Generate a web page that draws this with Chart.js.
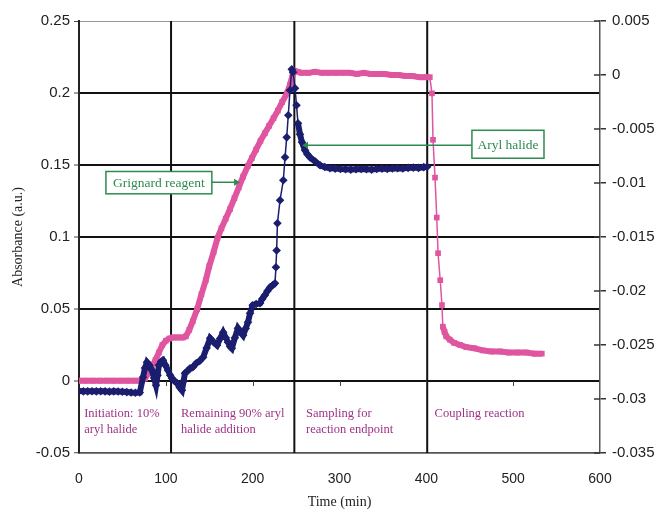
<!DOCTYPE html>
<html>
<head>
<meta charset="utf-8">
<script src="https://cdn.jsdelivr.net/npm/chart.js@4/dist/chart.umd.min.js"></script>
<style>
  html, body { margin: 0; padding: 0; background: #fff; }
</style>
</head>
<body>
<canvas id="absorbanceChart" width="654" height="513"></canvas>
<script>
'use strict';

// aryl halide absorbance (left axis, a.u.)
const arylTime = [0, 5, 10, 15, 20, 25, 30, 35, 40, 45, 50, 55, 60, 65, 70,
  73.7, 76, 78.3, 81, 84, 86.5, 88.7, 90.5, 92, 94.5, 96.7, 99.5, 102.5, 105, 107,
  110, 113, 116, 118.6, 120.5, 122, 125, 128, 131, 135, 139, 143, 147, 151, 155,
  159, 162.5, 166, 169, 171.6, 174, 176, 179.5, 183, 186, 189, 192, 194.6, 197,
  200, 204, 208.5, 211, 214, 217, 220, 223, 225.7, 226.8, 227.6, 228.5, 231.5,
  235.3, 237.3, 239.2, 241, 243, 245, 246.5, 248.8, 250.5, 252.2, 254.5, 256.8,
  260.3, 263, 266, 271.8, 277.6, 283, 289, 295, 301, 307, 313, 319, 325, 331, 337,
  343, 349, 355, 361, 367, 373, 379, 385, 391, 397, 401];
const arylAbs = [-0.0070, -0.0072, -0.0072, -0.0071, -0.0072, -0.0071, -0.0072,
  -0.0074, -0.0072, -0.0073, -0.0075, -0.0077, -0.0080, -0.0082, -0.0080,
  0.0026, 0.0090, 0.0130, 0.0110, 0.0074, 0.0020, -0.0030, 0.0040, 0.0110, 0.0135,
  0.0144, 0.0110, 0.0074, 0.0040, 0.0019, 0.0000, -0.0016, -0.0045, -0.0065,
  0.0000, 0.0053, 0.0070, 0.0088, 0.0095, 0.0123, 0.0140, 0.0165, 0.0230, 0.0297,
  0.0270, 0.0248, 0.0295, 0.0338, 0.0300, 0.0269, 0.0240, 0.0227, 0.0300, 0.0366,
  0.0340, 0.0317, 0.0365, 0.0408, 0.0470, 0.0526, 0.0535, 0.0540, 0.0570, 0.0595,
  0.0625, 0.0650, 0.0665, 0.0678, 0.0790, 0.0907, 0.1095, 0.1255, 0.1394, 0.1553,
  0.1692, 0.1845, 0.2019, 0.2165, 0.2144, 0.2033, 0.1915, 0.1790, 0.1713, 0.1658,
  0.1602, 0.1575, 0.1553, 0.1526, 0.1498, 0.1486, 0.1477, 0.1475, 0.1472, 0.1470,
  0.1468, 0.1470, 0.1472, 0.1470, 0.1468, 0.1472, 0.1475, 0.1473, 0.1476, 0.1478,
  0.1476, 0.1480, 0.1482, 0.1480, 0.1485, 0.1488];

// Grignard reagent absorbance (right axis, a.u.)
const grignardTime = [0, 8, 16, 24, 32, 40, 48, 56, 64, 72, 76, 80, 84, 88, 92, 96,
  100, 104, 108, 112, 116, 120, 123, 127, 131, 136, 141, 146, 150, 155, 159.5, 164,
  169, 174, 179, 184, 189, 194.6, 199, 204, 209, 214, 219, 224, 229, 234, 239.5,
  243, 246, 248, 252, 256, 264, 272, 280, 288, 296, 304, 312, 320, 328, 336, 344,
  352, 360, 368, 376, 384, 392, 400, 404, 406.5, 407.7, 410, 412, 413.5, 416, 418,
  419, 421, 423, 427, 432, 439, 446, 455, 465, 475, 485, 495, 505, 515, 525, 533];
const grignardAbs = [-0.0283, -0.0283, -0.0283, -0.0283, -0.0283, -0.0283, -0.0283,
  -0.0283, -0.0283, -0.0283, -0.0281, -0.0276, -0.0270, -0.0264, -0.0257, -0.0250,
  -0.0246, -0.0244, -0.0243, -0.0243, -0.0243, -0.0243, -0.0242, -0.0236, -0.0228,
  -0.0217, -0.0203, -0.0190, -0.0177, -0.0164, -0.0151, -0.0142, -0.0133, -0.0124,
  -0.0114, -0.0104, -0.0094, -0.0084, -0.0077, -0.0069, -0.0061, -0.0054, -0.0047,
  -0.0040, -0.0033, -0.0025, -0.0017, -0.0009, 0.0000, 0.0004, 0.0003, 0.0002,
  0.0002, 0.0003, 0.0002, 0.0002, 0.0002, 0.0002, 0.0002, 0.0001, 0.0002, 0.0001,
  0.0001, 0.0001, 0.0000, 0.0000, -0.0001, -0.0001, -0.0002, -0.0002, -0.0002,
  -0.0017, -0.0060, -0.0095, -0.0132, -0.0165, -0.0190, -0.0213, -0.0233, -0.0238,
  -0.0242, -0.0245, -0.0248, -0.0250, -0.0252, -0.0253, -0.0255, -0.0256, -0.0256,
  -0.0257, -0.0257, -0.0257, -0.0258, -0.0258];

// reaction stage boundaries (min)
const phaseBoundaries = [106, 248, 401];
const phaseNames = [
  ['Initiation: 10%', 'aryl halide'],
  ['Remaining 90% aryl', 'halide addition'],
  ['Sampling for', 'reaction endpoint'],
  ['Coupling reaction'],
];

const ARYL_COLOR = '#1b1d6e';
const GRIGNARD_COLOR = '#e0559f';
const NOTE_GREEN = '#2f8a50';
const PHASE_PURPLE = '#9e3386';
const SANS = "'Liberation Sans', Arial, sans-serif";
const SERIF = "'Liberation Serif', 'Times New Roman', serif";

function toPoints(xs, ys) {
  return xs.map((x, i) => ({ x, y: ys[i] }));
}

// dense runs of samples read as a thick band, sparse jumps as a thin line
function bandWidth(ctx) {
  const dist = Math.hypot(ctx.p1.x - ctx.p0.x, ctx.p1.y - ctx.p0.y);
  return dist < 16 ? 6 : 1.5;
}

// plain Excel-like labels: 0.2, 0, -0.005
function tickText(value) {
  const v = parseFloat(Number(value).toFixed(3));
  return v === 0 ? '0' : String(v);
}

function gridColor(value) {
  if (value === 0) return '#8a8a8a';
  if (value > 0.24) return '#9a9a9a';
  if (value < -0.04) return '#555';
  return '#111';
}

function gridWidth(value) {
  if (value === 0 || value > 0.24) return 1;
  if (value < -0.04) return 1.5;
  return 2;
}

const dividerSets = phaseBoundaries.map((t) => ({
  data: [{ x: t, y: -0.05 }, { x: t, y: 0.25 }],
  showLine: true,
  borderColor: '#111',
  borderWidth: 2,
  pointRadius: 0,
  yAxisID: 'y',
  order: 10,
}));

const phasePositions = [
  { t: 6, v: -0.0225 },
  { t: 117.5, v: -0.0225 },
  { t: 261.5, v: -0.0225 },
  { t: 409.5, v: -0.0225 },
];

function drawArrowHead(ctx, x, y, dir) {
  ctx.beginPath();
  ctx.moveTo(x, y);
  ctx.lineTo(x - dir * 6, y - 3.5);
  ctx.lineTo(x - dir * 6, y + 3.5);
  ctx.closePath();
  ctx.fill();
}

function drawNote(ctx, x, y, box, text, tip) {
  const left = x.getPixelForValue(box.t0);
  const right = x.getPixelForValue(box.t1);
  const top = y.getPixelForValue(box.v0);
  const bottom = y.getPixelForValue(box.v1);
  const tipX = x.getPixelForValue(tip.t);
  const tipY = y.getPixelForValue(tip.v);
  const fromX = tipX > right ? right : left;
  const dir = tipX > right ? 1 : -1;

  ctx.save();
  ctx.strokeStyle = NOTE_GREEN;
  ctx.fillStyle = NOTE_GREEN;
  ctx.lineWidth = 1.5;
  ctx.beginPath();
  ctx.moveTo(fromX, tipY);
  ctx.lineTo(tipX - dir * 5, tipY);
  ctx.stroke();
  drawArrowHead(ctx, tipX, tipY, dir);

  ctx.fillStyle = '#fff';
  ctx.fillRect(left, top, right - left, bottom - top);
  ctx.strokeRect(left, top, right - left, bottom - top);
  ctx.fillStyle = NOTE_GREEN;
  ctx.font = `13.5px ${SERIF}`;
  ctx.textAlign = 'center';
  ctx.textBaseline = 'middle';
  ctx.fillText(text, (left + right) / 2, (top + bottom) / 2 + 1);
  ctx.restore();
}

const annotationPlugin = {
  id: 'stageNotes',
  afterDatasetsDraw(chart) {
    const { ctx, chartArea, scales: { x, y, y2 } } = chart;

    // small tick marks hanging from the zero line
    const zeroY = y.getPixelForValue(0);
    ctx.save();
    ctx.strokeStyle = '#444';
    ctx.lineWidth = 1;
    x.ticks.forEach((tick) => {
      if (tick.value <= 0 || tick.value >= 600) return;
      const px = Math.round(x.getPixelForValue(tick.value)) + 0.5;
      ctx.beginPath();
      ctx.moveTo(px, zeroY);
      ctx.lineTo(px, zeroY + 5);
      ctx.stroke();
    });

    // right axis ticks also cross into the plot
    ctx.strokeStyle = '#333';
    ctx.lineWidth = 1.5;
    y2.ticks.forEach((tick) => {
      const py = y2.getPixelForValue(tick.value);
      ctx.beginPath();
      ctx.moveTo(chartArea.right - 6, py);
      ctx.lineTo(chartArea.right, py);
      ctx.stroke();
    });

    // stage labels
    ctx.fillStyle = PHASE_PURPLE;
    ctx.font = `12.5px ${SERIF}`;
    ctx.textAlign = 'left';
    ctx.textBaseline = 'middle';
    phaseNames.forEach((lines, i) => {
      const pos = phasePositions[i];
      const px = x.getPixelForValue(pos.t);
      const py = y.getPixelForValue(pos.v);
      lines.forEach((line, j) => ctx.fillText(line, px, py + j * 16.5));
    });
    ctx.restore();

    drawNote(ctx, x, y, { t0: 31, t1: 153, v0: 0.1455, v1: 0.1300 },
      'Grignard reagent', { t: 185.5, v: 0.138 });
    drawNote(ctx, x, y, { t0: 452.5, t1: 535.5, v0: 0.1741, v1: 0.1547 },
      'Aryl halide', { t: 256.8, v: 0.1637 });
  },
};

new Chart(document.getElementById('absorbanceChart'), {
  type: 'scatter',
  data: {
    datasets: [
      {
        label: 'Aryl halide',
        data: toPoints(arylTime, arylAbs),
        showLine: true,
        borderColor: ARYL_COLOR,
        backgroundColor: ARYL_COLOR,
        borderWidth: 1.5,
        segment: { borderWidth: bandWidth },
        pointStyle: 'rectRot',
        pointRadius: 4.3,
        pointBorderWidth: 0,
        yAxisID: 'y',
        order: 0,
      },
      {
        label: 'Grignard reagent',
        data: toPoints(grignardTime, grignardAbs),
        showLine: true,
        borderColor: GRIGNARD_COLOR,
        backgroundColor: GRIGNARD_COLOR,
        borderWidth: 1.5,
        segment: { borderWidth: bandWidth },
        pointStyle: 'rect',
        pointRadius: 4,
        pointBorderWidth: 0,
        yAxisID: 'y2',
        order: 1,
      },
      ...dividerSets,
    ],
  },
  options: {
    responsive: false,
    animation: false,
    layout: { padding: { top: 21, right: 0, bottom: 0, left: 6 } },
    plugins: {
      legend: { display: false },
      tooltip: { enabled: false },
    },
    scales: {
      x: {
        type: 'linear',
        min: 0,
        max: 600,
        ticks: {
          stepSize: 100,
          padding: 18,
          color: '#222',
          font: { family: SANS, size: 14 },
        },
        grid: { display: false, drawTicks: false },
        border: { display: true, color: '#555', width: 1.5 },
        title: {
          display: true,
          text: 'Time (min)',
          color: '#222',
          font: { family: SERIF, size: 14 },
          padding: { top: 4, bottom: 2 },
        },
        afterFit: (scale) => { scale.height = 60; },
      },
      y: {
        position: 'left',
        min: -0.05,
        max: 0.25,
        ticks: {
          stepSize: 0.05,
          padding: 4,
          color: '#222',
          font: { family: SANS, size: 15 },
          callback: tickText,
        },
        grid: {
          color: (ctx) => gridColor(ctx.tick ? ctx.tick.value : null),
          lineWidth: (ctx) => gridWidth(ctx.tick ? ctx.tick.value : null),
          tickColor: '#444',
          tickWidth: 1,
          tickLength: 5,
        },
        border: { display: true, color: '#222', width: 2 },
        title: {
          display: true,
          text: 'Absorbance (a.u.)',
          color: '#222',
          font: { family: SERIF, size: 14 },
          padding: { top: 4, bottom: 4 },
        },
        afterFit: (scale) => { scale.width = 73; },
      },
      y2: {
        position: 'right',
        min: -0.035,
        max: 0.005,
        ticks: {
          stepSize: 0.005,
          padding: 6,
          color: '#222',
          font: { family: SANS, size: 15 },
          callback: tickText,
        },
        grid: {
          drawOnChartArea: false,
          color: '#333',
          lineWidth: 1.5,
          tickLength: 6,
        },
        border: { display: true, color: '#555', width: 1.5 },
        afterFit: (scale) => { scale.width = 54; },
      },
    },
  },
  plugins: [annotationPlugin],
});
</script>
</body>
</html>
